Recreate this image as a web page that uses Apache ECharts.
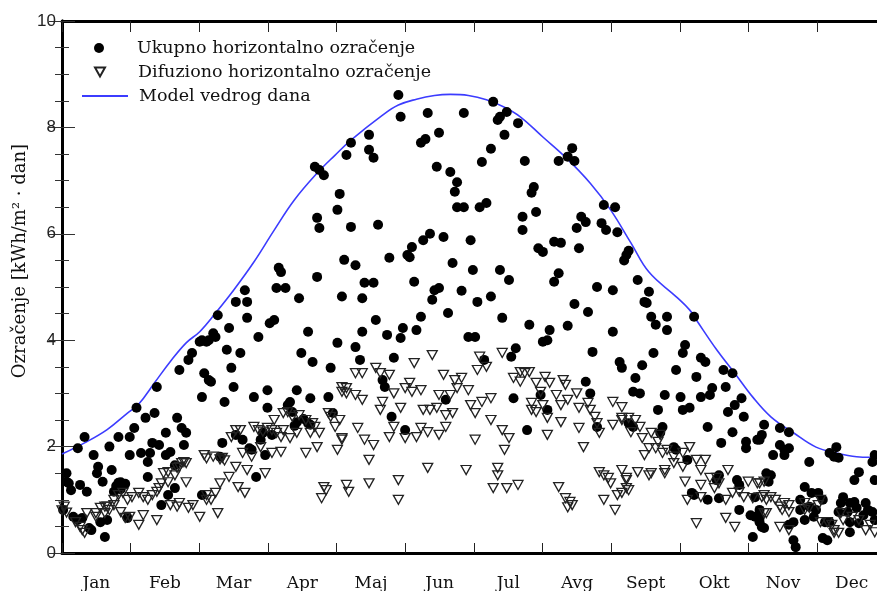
<!DOCTYPE html>
<html><head><meta charset="utf-8">
<script src="https://cdn.jsdelivr.net/npm/echarts@6/dist/echarts.min.js"></script>
<style>html,body{margin:0;padding:0;background:#fff}#c{width:877px;height:591px}</style>
</head><body><div id="c"></div>
<script>
const months = ['Jan','Feb','Mar','Apr','Maj','Jun','Jul','Avg','Sept','Okt','Nov','Dec'];
const yTicks = [0, 2, 4, 6, 8, 10];
const seriesNames = ['Ukupno horizontalno ozračenje', 'Difuziono horizontalno ozračenje', 'Model vedrog dana'];

// Global (total) horizontal irradiation [day, kWh/m2/day]
const ukupno = [
[2,1.5],[2,1.34],[3,1.31],[4,1.18],[0.5,0.81],[5,0.68],[7,0.62],[9,0.66],[8,1.28],[11,1.15],[7,1.97],[10,2.18],[14,1.84],[16,1.62],[15.5,1.5],[18,1.34],[12,0.47],[13,0.43],[17,0.58],[20,0.62],[19,0.3],[21,2.0],[22,1.56],[25,2.18],[25,1.32],[26,1.33],[28,1.3],[24,1.26],[26,1.2],[23,1.15],[29,0.66],[30,2.18],[30,1.84],[32,2.35],[33,2.73],[35,1.88],[37,2.54],[38,1.43],[39,1.88],[38,1.71],[40,2.07],[43,2.03],[41,2.63],[42,3.12],[46,2.26],[46,1.84],[48,1.9],[47,1.09],[44,0.9],[50,1.65],[50,1.22],[51,2.54],[53,2.35],[55,2.26],[54,2.03],[52,3.44],[56,3.63],[57.6,3.76],[61,3.97],[64,3.97],[63,3.38],[65,3.25],[62,2.93],[62,1.09],
[62,4.0],[65,4.0],[67,4.13],[68,4.06],[69,4.47],[74,4.23],[77,4.72],[82,4.72],[81,4.94],[82,4.42],[87,4.06],[66,3.22],[73,3.82],[79,3.76],[75,3.48],[76,3.12],[72,2.84],[85,2.93],[92,4.32],[94,4.38],[91,3.06],[91,2.73],[96,5.36],[97,5.28],[95,4.98],[99,4.98],[105,4.79],[109,4.16],[106,3.76],[111,3.59],[113,5.19],[113,6.3],[114,6.11],[122,6.45],[125,5.51],[124,4.82],[122,3.95],[119,3.48],[118,2.93],[120,2.63],[104,3.06],[101,2.84],[100,2.78],[110,2.91],[102,2.65],[104,2.46],[103,2.39],[107,2.52],[109,2.44],[110,2.41],[93,2.22],[89,2.26],[88,2.13],[84,1.94],[83,1.97],[90,1.84],[86,1.43],[80,2.13],[77,2.22],[71,2.07],[70,1.81],
[112,7.26],[114,7.2],[116,7.1],[123,6.75],
[149,8.61],[150,8.2],[128,7.71],[126,7.48],[136,7.86],[136,7.58],[138,7.43],[162,8.27],[178,8.27],[167,7.9],[159,7.71],[161,7.78],[166,7.26],[172,7.16],[175,6.97],[174,6.79],[175,6.5],[178,6.5],[185,6.5],[188,6.58],[186,7.35],[190,7.6],[128,6.13],[140,6.17],[130,5.41],[145,5.55],[153,5.6],[155,5.75],[154,5.56],[160,5.88],[163,6.0],[169,5.94],[181,5.88],[173,5.45],[182,5.32],[134,5.08],[138,5.08],[133,4.79],[156,5.1],[165,4.94],[167,4.98],[164,4.76],[177,4.93],[184,4.72],[171,4.51],[159,4.44],[139,4.38],[157,4.19],[151,4.23],[150,4.04],[144,4.1],[133,4.16],[130,3.87],[132,3.63],[147,3.67],[180,4.06],[183,4.06],[187,3.63],[142,3.25],[143,3.12],[170,2.88],[146,2.56],[152,2.31],
[191,8.48],[197,8.29],[193,8.14],[194,8.2],[202,8.08],[196,7.86],[205,7.37],[220,7.37],[224,7.45],[226,7.61],[227,7.37],[209,6.88],[208,6.77],[210,6.41],[204,6.32],[204,6.07],[230,6.32],[232,6.22],[228,6.11],[239,6.2],[241,6.07],[246,6.03],[240,6.54],[245,6.5],[211,5.73],[213,5.66],[218,5.85],[221,5.83],[229,5.73],[249,5.5],[250,5.6],[251,5.68],[194,5.32],[198,5.13],[220,5.26],[218,5.1],[237,5.0],[244,4.94],[190,4.82],[227,4.68],[233,4.53],[195,4.42],[207,4.29],[216,4.19],[213,3.97],[215,4.0],[224,4.27],[244,4.16],[235,3.78],[247,3.59],[248,3.48],[201,3.85],[199,3.69],[232,3.22],[234,3.0],[200,2.91],[212,2.97],[215,2.69],[206,2.31],[237,2.37],
[255,5.13],[260,4.91],[258,4.72],[259,4.7],[261,4.44],[263,4.29],[268,4.44],[268,4.19],[280,4.44],[276,3.91],[275,3.76],[262,3.76],[283,3.67],[285,3.59],[257,3.53],[254,3.29],[272,3.44],[281,3.31],[293,3.44],[297,3.38],[294,3.12],[288,3.1],[287,2.97],[283,2.93],[253,3.03],[256,3.0],[267,2.97],[274,2.93],[301,2.91],[298,2.78],[264,2.69],[275,2.69],[278,2.73],[295,2.65],[302,2.56],[311,2.41],[286,2.37],[297,2.27],[251,2.44],[253,2.37],[266,2.37],[265,2.26],[292,2.07],[303,2.09],[308,2.13],[303,1.97],[271,1.99],[272,1.94],[277,1.75],[291,1.46],[290,1.37],[299,1.37],[300,1.28],[279,1.13],[280,1.09],[286,1.0],[291,1.03],[300,0.81],[305,0.71],[307,0.68],[309,0.58],[311,0.47],[306,0.3],[312,1.5],[313,1.34],[307,1.05],
[310,2.22],[309,2.13],[318,2.35],[322,2.27],[318,2.03],[320,1.94],[322,1.97],[315,1.84],[320,1.84],[331,1.71],[340,1.88],[343,1.99],[342,1.81],[344,1.79],[359,1.71],[360,1.84],[353,1.52],[351,1.37],[360,1.37],[314,1.46],[329,1.24],[332,1.13],[335,1.13],[337,1.0],[327,1.0],[327,0.81],[331,0.87],[334,0.81],[333,0.68],[329,0.62],[324,0.58],[322,0.53],[324,0.24],[325,0.11],[337,0.28],[339,0.24],[338,0.58],[340,0.58],[346,1.05],[345,0.94],[349,0.94],[351,0.96],[348,0.77],[344,0.77],[352,0.85],[356,0.94],[357,0.81],[355,0.71],[349,0.58],[349,0.39],[353,0.56],[359,0.77],[360,0.62],[309,0.66],[310,0.49],[309,0.81]
];

// Diffuse horizontal irradiation [day, kWh/m2/day]
const difuzno = [
[1,0.87],[0,0.8],[2,0.76],[6,0.58],[8,0.49],[10,0.38],[9,0.43],[11,0.75],[15,0.75],[17,0.85],[19,0.87],[20,0.87],[21,0.81],[23,0.9],[15,0.68],[19,0.75],[26,0.77],[28,0.66],[30,0.68],[34,0.53],[23,1.0],[25,1.09],[27,1.13],[29,1.0],[31,1.05],[34,1.13],[36,1.05],[38,1.0],[40,1.09],[42,1.15],[43,1.22],[36,0.71],[42,0.62],[44,1.31],[47,1.33],[45,1.5],[47,1.52],[50,1.46],[51,1.6],[52,1.62],[53,1.69],[54,1.71],[55,1.69],[55,1.33],[48,0.9],[51,0.87],[52,0.94],[58,0.9],[56,0.85],[61,0.68],[64,1.0],
[63,1.84],[64,1.78],[67,1.81],[70,1.76],[71,1.79],[72,1.74],[74,1.43],[77,1.62],[78,1.24],[81,1.13],[82,1.56],[84,1.81],[80,1.88],[70,1.31],[68,1.13],[66,1.0],[64,1.09],[69,0.75],[75,2.18],[79,2.31],[77,2.31],[85,2.37],[87,2.31],[89,2.28],[91,2.35],[93,2.31],[95,2.26],[98,2.31],[97,2.18],[94,2.5],[98,2.63],[100,2.65],[102,2.56],[105,2.59],[108,2.5],[111,2.44],[112,2.37],[114,2.26],[110,2.26],[104,2.26],[101,2.16],[88,1.99],[93,1.88],[97,1.9],[90,1.5],[108,1.88],[113,1.99],[122,1.94],[124,2.13],[116,1.24],[115,1.03],[117,1.18],[126,1.28],[127,1.15],[118,2.63],[119,2.56],[121,2.37],[123,2.5],[124,3.03],[126,3.1],
[130,3.38],[133,3.38],[139,3.48],[141,3.38],[145,3.35],[124,3.12],[126,3.0],[130,2.97],[133,2.88],[142,2.84],[141,2.69],[150,2.73],[147,3.0],[152,3.1],[154,3.2],[159,3.06],[155,3.03],[156,3.57],[164,3.72],[169,3.35],[174,3.25],[177,3.29],[175,3.1],[180,3.06],[167,2.97],[172,2.97],[185,3.69],[184,3.44],[188,3.5],[160,2.69],[163,2.69],[166,2.73],[170,2.59],[173,2.63],[181,2.78],[183,2.63],[186,2.84],[124,2.16],[131,2.35],[134,2.13],[138,2.03],[136,1.75],[145,2.18],[147,2.37],[152,2.16],[157,2.18],[162,2.27],[159,2.35],[167,2.22],[170,2.37],[183,2.13],[136,1.31],[149,1.37],[149,1.0],[162,1.6],[179,1.56],
[195,3.76],[200,3.29],[203,3.4],[205,3.38],[203,3.22],[207,3.4],[210,3.2],[214,3.31],[216,3.2],[222,3.25],[223,3.16],[212,3.03],[190,2.91],[190,2.5],[195,2.31],[198,2.16],[196,1.94],[208,2.82],[208,2.69],[210,2.65],[213,2.78],[215,2.54],[221,2.46],[219,2.97],[221,2.78],[224,2.88],[228,3.0],[229,2.73],[233,2.82],[234,2.69],[236,2.56],[237,2.44],[238,2.26],[229,2.35],[215,2.22],[231,1.99],[244,2.84],[248,2.74],[244,2.41],[248,2.5],[251,2.54],[193,1.6],[193,1.46],[191,1.22],[197,1.22],[202,1.28],[220,1.24],[223,1.03],[225,0.96],[226,0.9],[224,0.86],[238,1.52],[240,1.46],[242,1.41],[243,1.31],[248,1.56],[250,1.37],[250,1.22],[246,1.09],[240,1.0],[245,0.81],
[248,2.54],[254,2.5],[256,2.37],[257,2.16],[252,2.27],[261,2.26],[265,2.22],[264,2.09],[258,1.84],[260,1.97],[263,1.97],[266,1.88],[268,1.94],[271,1.81],[275,1.88],[271,1.69],[275,1.62],[278,1.99],[281,1.75],[285,1.75],[283,1.56],[267,1.56],[261,1.5],[250,1.41],[251,1.18],[248,1.13],[255,1.52],[260,1.46],[267,1.5],[276,1.34],[277,1.0],[283,1.28],[283,1.05],[287,1.41],[290,1.41],[291,1.31],[295,1.56],[289,1.22],[294,1.0],[297,1.13],[298,0.49],[294,0.66],[281,0.56],[300,1.15],[304,1.34],[308,1.31],[302,1.05],[306,1.03],[310,1.05],[312,0.75],[311,1.34],
[309,1.31],[311,1.09],[312,1.0],[314,1.05],[316,1.0],[318,0.87],[320,0.94],[322,0.9],[319,0.81],[322,0.77],[311,0.75],[318,0.49],[322,0.43],[329,0.81],[331,0.85],[329,0.94],[336,1.0],[335,0.9],[336,0.58],[339,0.58],[341,0.53],[342,0.43],[344,0.38],[345,0.75],[346,0.62],[350,0.68],[353,0.62],[356,0.43],[358,0.53],[360,0.39],[342,0.38]
];

// Clear-sky model
const modelDays = [0,10,20,29,34,41,48,55,61,68,76,85,94,103,113,121,128,142,149,157,165,172,180,188,196,203,213,223,234,243,252,260,272,278,281,290,298,306,314,324,334,343,352,358,365];
const modelVals = [1.86,2.07,2.32,2.63,2.8,3.2,3.6,3.95,4.16,4.51,4.94,5.47,6.07,6.64,7.14,7.48,7.76,8.23,8.42,8.53,8.6,8.62,8.6,8.52,8.38,8.2,7.82,7.44,6.95,6.45,5.83,5.28,4.82,4.57,4.38,3.82,3.38,2.93,2.56,2.26,1.99,1.88,1.81,1.8,1.82];

const chart = echarts.init(document.getElementById('c'), null, {renderer: 'canvas'});
const monthLen = 365 / 12;
const serif = 'DejaVu Serif';
const sans = 'Liberation Sans';
const legendText = (padLeft) => ({fontFamily: serif, fontSize: 17.5, color: '#111', lineHeight: 20, padding: [0, 0, 0, padLeft]});

chart.setOption({
  animation: false,
  backgroundColor: '#ffffff',
  grid: {left: 62, top: 21, right: -9, bottom: 38, containLabel: false, outerBoundsMode: 'none'},
  legend: [
    {orient: 'vertical', left: 94, top: 38, padding: 0, itemWidth: 10, itemHeight: 10,
     data: [seriesNames[0]], textStyle: legendText(28)},
    {orient: 'vertical', left: 94, top: 62, padding: 0, itemWidth: 10, itemHeight: 9,
     data: [{name: seriesNames[1], icon: 'path://M0,0 L10,0 L5,9 Z'}], textStyle: legendText(28)},
    {orient: 'vertical', left: 82, top: 86, padding: 0, itemWidth: 46, itemHeight: 2,
     data: [{name: seriesNames[2], icon: 'rect'}], textStyle: legendText(6)}
  ],
  xAxis: [
    {type: 'value', min: 0, max: 365, interval: monthLen, position: 'bottom',
     axisLine: {show: true, lineStyle: {color: '#000', width: 3}},
     axisTick: {show: true, inside: true, length: 10, lineStyle: {color: '#222', width: 1}},
     axisLabel: {show: false}, splitLine: {show: false}},
    {type: 'category', data: months, position: 'bottom', boundaryGap: true,
     axisLine: {show: false}, axisTick: {show: false}, splitLine: {show: false},
     axisLabel: {show: true, margin: 22, fontFamily: serif, fontSize: 17, color: '#111'}},
    {type: 'value', min: 0, max: 365, interval: monthLen, position: 'top',
     axisLine: {show: true, lineStyle: {color: '#000', width: 3}},
     axisTick: {show: true, inside: true, length: 11, lineStyle: {color: '#222', width: 1}},
     axisLabel: {show: false}, splitLine: {show: false}}
  ],
  yAxis: [
    {type: 'value', min: 0, max: 10, interval: 2, position: 'left',
     axisLine: {show: true, lineStyle: {color: '#000', width: 3}},
     axisTick: {show: true, inside: true, length: 13, lineStyle: {color: '#333', width: 1}},
     minorTick: {show: true, splitNumber: 4, length: 7, lineStyle: {color: '#333', width: 1}},
     axisLabel: {show: true, margin: 6, fontFamily: sans, fontSize: 17, color: '#222',
       formatter: v => yTicks.indexOf(v) >= 0 ? String(v) : ''},
     splitLine: {show: false}},
    {type: 'value', min: 0, max: 10, interval: 2, position: 'right',
     axisLine: {show: true, lineStyle: {color: '#000', width: 3}},
     axisTick: {show: true, inside: true, length: 13, lineStyle: {color: '#333', width: 1}},
     minorTick: {show: true, splitNumber: 4, length: 7, lineStyle: {color: '#333', width: 1}},
     axisLabel: {show: false}, splitLine: {show: false}}
  ],
  graphic: [{
    type: 'text', x: 20, y: 261, rotation: Math.PI / 2,
    style: {text: 'Ozračenje [kWh/m² · dan]', fontFamily: serif, fontSize: 18, fill: '#111',
            align: 'center', verticalAlign: 'middle'}
  }],
  series: [
    {name: seriesNames[2], type: 'line', xAxisIndex: 0, yAxisIndex: 0,
     data: modelDays.map((d, i) => [d, modelVals[i]]),
     smooth: 0.4, showSymbol: false, symbol: 'none',
     lineStyle: {color: '#3c3cff', width: 1.6}, itemStyle: {color: '#3c3cff'}, z: 2},
    {name: seriesNames[0], type: 'scatter', xAxisIndex: 0, yAxisIndex: 0,
     data: ukupno, symbol: 'circle', symbolSize: 10,
     itemStyle: {color: '#000', opacity: 1}, z: 3},
    {name: seriesNames[1], type: 'scatter', xAxisIndex: 0, yAxisIndex: 0,
     data: difuzno, symbol: 'triangle', symbolSize: [10, 9], symbolRotate: 180,
     itemStyle: {color: 'rgba(255,255,255,0)', borderColor: '#222', borderWidth: 1.3, opacity: 1}, z: 4}
  ]
});
</script></body></html>
